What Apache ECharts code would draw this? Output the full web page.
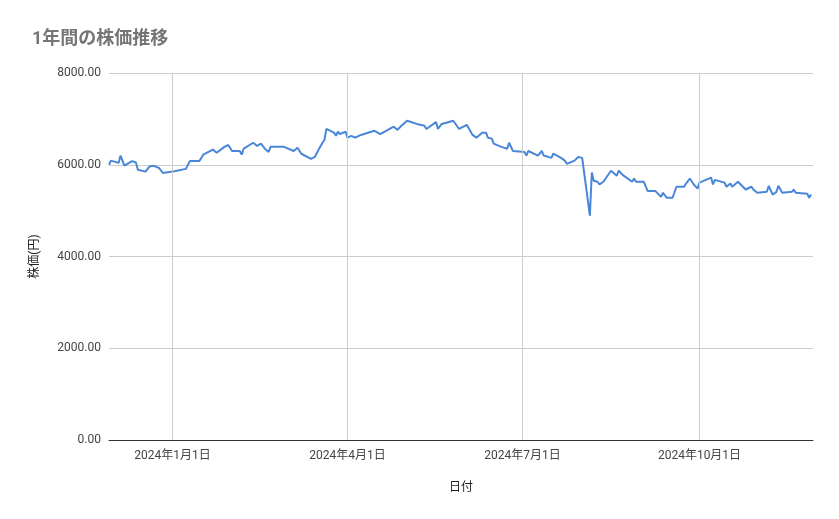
<!DOCTYPE html>
<html><head><meta charset="utf-8">
<script src="https://cdn.jsdelivr.net/npm/echarts@6/dist/echarts.min.js"></script>
<style>html,body{margin:0;background:#fff}#c{width:839px;height:519px}</style>
</head><body><div id="c"></div>
<script>
const dates = ["2023-11-29","2023-11-30","2023-12-04","2023-12-05","2023-12-07","2023-12-11","2023-12-13","2023-12-14","2023-12-18","2023-12-20","2023-12-22","2023-12-25","2023-12-27",
"2024-01-02","2024-01-08","2024-01-10","2024-01-15","2024-01-17","2024-01-22","2024-01-24","2024-01-28","2024-01-30","2024-02-01","2024-02-05","2024-02-06","2024-02-07","2024-02-12","2024-02-14","2024-02-16","2024-02-18","2024-02-20","2024-02-21","2024-02-28","2024-02-29",
"2024-03-04","2024-03-06","2024-03-08","2024-03-13","2024-03-15","2024-03-17","2024-03-19","2024-03-20","2024-03-21","2024-03-25","2024-03-26","2024-03-27","2024-03-28","2024-03-31",
"2024-04-01","2024-04-03","2024-04-05","2024-04-08","2024-04-15","2024-04-18","2024-04-25","2024-04-27","2024-04-29","2024-05-02","2024-05-07","2024-05-11","2024-05-12","2024-05-17","2024-05-18","2024-05-20","2024-05-26","2024-05-29",
"2024-06-02","2024-06-05","2024-06-07","2024-06-10","2024-06-12","2024-06-13","2024-06-15","2024-06-16","2024-06-20","2024-06-23","2024-06-24","2024-06-26",
"2024-07-02","2024-07-03","2024-07-04","2024-07-09","2024-07-11","2024-07-12","2024-07-16","2024-07-17","2024-07-21","2024-07-23","2024-07-24","2024-07-28","2024-07-30",
"2024-08-01","2024-08-05","2024-08-06","2024-08-07","2024-08-09","2024-08-10","2024-08-12","2024-08-16","2024-08-19","2024-08-20","2024-08-22","2024-08-27","2024-08-28","2024-08-29",
"2024-09-02","2024-09-04","2024-09-08","2024-09-11","2024-09-12","2024-09-14","2024-09-17","2024-09-19","2024-09-23","2024-09-24","2024-09-26","2024-09-28","2024-09-30",
"2024-10-01","2024-10-02","2024-10-07","2024-10-08","2024-10-09","2024-10-14","2024-10-15","2024-10-17","2024-10-18","2024-10-21","2024-10-25","2024-10-28","2024-10-29","2024-10-31",
"2024-11-05","2024-11-06","2024-11-07","2024-11-08","2024-11-10","2024-11-11","2024-11-13","2024-11-18","2024-11-19","2024-11-20","2024-11-26","2024-11-27","2024-11-28","2024-11-29"];
const prices = [6000,6090,6040,6200,5980,6080,6050,5890,5850,5960,5980,5930,5820,
5860,5910,6080,6080,6220,6330,6260,6390,6430,6300,6300,6220,6350,6480,6410,6460,6350,6280,6390,6390,6430,
6300,6370,6240,6130,6170,6330,6480,6540,6780,6700,6630,6720,6670,6720,
6590,6630,6590,6650,6740,6670,6830,6760,6850,6960,6890,6850,6780,6930,6780,6890,6960,6780,
6870,6650,6590,6700,6700,6590,6570,6460,6390,6350,6480,6300,
6280,6200,6300,6200,6300,6200,6150,6240,6150,6090,6020,6090,6170,
6150,4890,5830,5650,5630,5570,5630,5870,5760,5870,5780,5630,5700,5630,
5630,5430,5430,5300,5390,5280,5280,5520,5520,5590,5700,5570,5480,
5610,5590,5720,5570,5670,5610,5520,5590,5520,5630,5460,5520,5460,5390,
5410,5540,5520,5350,5410,5540,5390,5410,5460,5390,5370,5280,5350,5350];
const xTicks = ["2024-01-01","2024-04-01","2024-07-01","2024-10-01"];
const yTicks = [0,2000,4000,6000,8000];
const ff = 'Roboto, "Noto Sans CJK JP", sans-serif';
const ts = d => Date.UTC(+d.slice(0,4), +d.slice(5,7)-1, +d.slice(8,10));
const tickTimes = xTicks.map(ts);
const chart = echarts.init(document.getElementById('c'));
chart.setOption({
  title:{text:'1年間の株価推移',left:27,top:26,textStyle:{color:'#757575',fontSize:18,fontWeight:'bold',fontFamily:ff}},
  grid:{left:109,right:26,top:73,bottom:79},
  xAxis:{type:'value',min:ts('2023-11-29'),max:ts('2024-11-29'),
    name:'日付',nameLocation:'middle',nameGap:42,nameTextStyle:{fontSize:12,color:'#222',fontFamily:ff},
    axisLine:{lineStyle:{color:'#333'}},axisTick:{show:false},
    axisLabel:{customValues:tickTimes,color:'#444',fontSize:12,fontFamily:ff,margin:10,showMinLabel:true,showMaxLabel:true,
      formatter:v=>{const d=new Date(v);return d.getUTCFullYear()+'年'+(d.getUTCMonth()+1)+'月'+d.getUTCDate()+'日';}},
    splitLine:{show:false}},
  yAxis:{type:'value',min:yTicks[0],max:yTicks[yTicks.length-1],interval:2000,
    name:'株価(円)',nameLocation:'middle',nameGap:68,nameRotate:90,nameTextStyle:{fontSize:12,color:'#222',fontFamily:ff},
    axisLine:{show:false},axisTick:{show:false},
    axisLabel:{color:'#444',fontSize:12,fontFamily:ff,formatter:v=>v.toFixed(2)},
    splitLine:{lineStyle:{color:'#ccc'}}},
  series:[{type:'line',data:dates.map((d,i)=>[ts(d),prices[i]]),showSymbol:false,
    lineStyle:{color:'#4a86d8',width:2},itemStyle:{color:'#4a86d8'},z:3,
    markLine:{silent:true,symbol:'none',label:{show:false},animation:false,
      lineStyle:{color:'#ccc',type:'solid',width:1},data:tickTimes.map(t=>({xAxis:t}))}}]
});
</script></body></html>
